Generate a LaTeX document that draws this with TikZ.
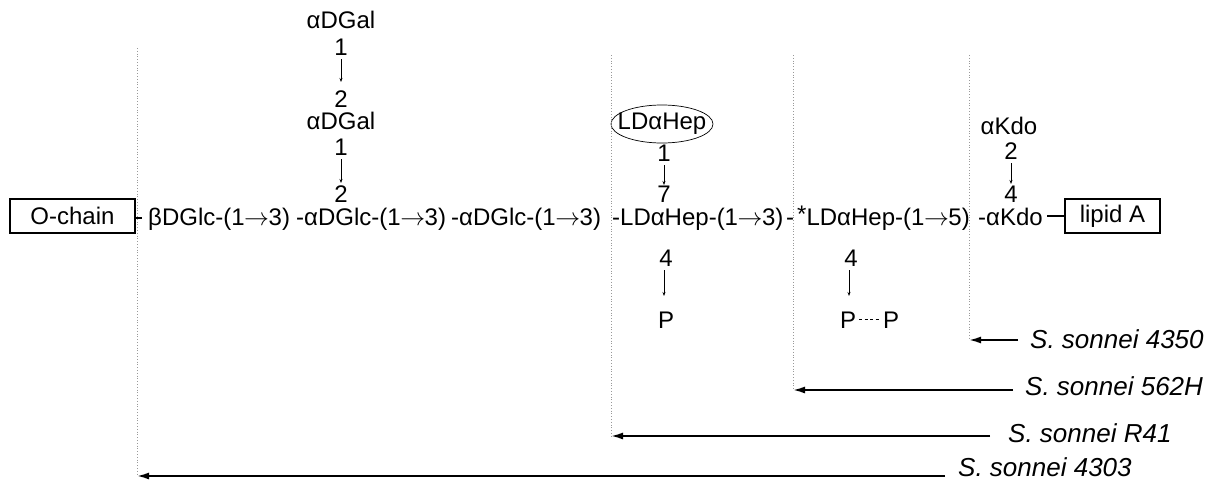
\documentclass[tikz,border=0pt]{standalone}
\usepackage{fontspec}
\setmainfont{Liberation Sans}
\usetikzlibrary{arrows.meta,shapes.geometric}
\newcommand{\ar}{\makebox[1em]{$\rightarrow$}}
\begin{document}
\begin{tikzpicture}[x=1pt,y=-1pt,
  txt/.style={inner sep=0pt,font=\fontsize{24}{28}\selectfont,anchor=base west},
  ctr/.style={inner sep=0pt,font=\fontsize{24}{28}\selectfont,anchor=base},
  lbl/.style={inner sep=0pt,font=\fontsize{26}{30}\selectfont\itshape,anchor=west},
  guide/.style={gray!80,dotted,line width=0.8pt},
  bond/.style={line width=0.7pt,-{Stealth[length=4pt,width=3pt]}},
  cut/.style={line width=1.8pt,-{Latex[length=12pt,width=7pt]}},
  box/.style={draw,line width=1.2pt,inner sep=0pt,minimum height=34pt,font=\fontsize{24}{28}\selectfont}]
\useasboundingbox (0,0) rectangle (1208,482);
% boxes
\node[box,minimum width=125pt] (ochain) at (72.5,216) {O-chain};
\node[box,minimum width=95pt] (lipid) at (1112.5,216) {lipid A};
\draw[line width=1.2pt] (ochain.east) ++(0,2) -- ++(6,0);
% main row
\node[txt] (n1) at (148,225) {βDGlc-(1\ar3)};
\node[txt] (n2) at (296,225) {-αDGlc-(1\ar3)};
\node[txt] (n3) at (451,225) {-αDGlc-(1\ar3)};
\node[txt] (n4) at (612,225) {-LDαHep-(1\ar3)};
\node[txt] (n5) at (786,225) {-};
\node[txt] (n6) at (797,225) {\raisebox{3pt}{*}LDαHep-(1\ar5)};
\node[txt] (n7) at (978,225) {-αKdo};
\draw[line width=1.2pt] (lipid.west) -- ([xshift=4pt]lipid.west -| n7.east);
% galactose branch
\node[ctr] (gal1) at (341,28) {αDGal};
\node[ctr] (g1a) at (341,55) {1};
\node[ctr] (g1b) at (341,107) {2};
\node[ctr] (gal2) at (341,129) {αDGal};
\node[ctr] (g2a) at (341,155) {1};
\node[ctr] (g2b) at (341,202) {2};
\draw[bond] (g1a.base) ++(0,4) -- ++(0,23);
\draw[bond] (g2a.base) ++(0,4) -- ++(0,24);
% heptose 1 branch
\node[inner sep=0pt,font=\fontsize{24}{28}\selectfont] (hepE) at (662,124) {LDαHep};
\draw[line width=0.7pt] (hepE.center) ellipse (51 and 19);
\node[ctr] (h1a) at (664,161) {1};
\node[ctr] (h1b) at (664,202) {7};
\draw[bond] (h1a.base) ++(0,4) -- ++(0,20);
\node[ctr] (h1c) at (666,266) {4};
\node[ctr] (p1) at (666,328) {P};
\draw[bond] (664,270) -- (664,296);
% heptose 2 branch
\node[ctr] (h2c) at (851,266) {4};
\node[ctr] (p2) at (848,328) {P};
\node[ctr] (p3) at (891,328) {P};
\draw[bond] (849,270) -- (849,296);
\draw[line width=0.7pt,dash pattern=on 3pt off 2.5pt] ([xshift=3pt,yshift=8.5pt]p2.base east) -- ([xshift=-3pt,yshift=8.5pt]p3.base west);
% Kdo branch
\node[ctr] (kdo) at (1009,134) {αKdo};
\node[ctr] (k1a) at (1011,159) {2};
\node[ctr] (k1b) at (1011,202) {4};
\draw[bond] (k1a.base) ++(0,4) -- ++(0,21);
% guide lines
\coordinate (ga) at (137,48);  \coordinate (gaa) at (137,476);
\coordinate (gb) at (611,55);  \coordinate (gbb) at (611,436);
\coordinate (gc) at (793,55);  \coordinate (gcc) at (793,390);
\coordinate (gd) at (969,55);  \coordinate (gdd) at (969,340);
\draw[guide] (ga) -- (gaa);
\draw[guide] (gb) -- (gbb);
\draw[guide] (gc) -- (gcc);
\draw[guide] (gd) -- (gdd);
% strain labels and arrows
\node[lbl] (s1) at (1030,339) {S. sonnei 4350};
\node[lbl] (s2) at (1025,386) {S. sonnei 562H};
\node[lbl] (s3) at (1008,433) {S. sonnei R41};
\node[lbl] (s4) at (958,467) {S. sonnei 4303};
\coordinate (a1) at (1018,340);
\coordinate (a2) at (1013,390);
\coordinate (a3) at (990,436);
\coordinate (a4) at (945,476);
\draw[cut] (a1) -- (gdd);
\draw[cut] (a2) -- (gcc);
\draw[cut] (a3) -- (gbb);
\draw[cut] (a4) -- (gaa);
\end{tikzpicture}
\end{document}
